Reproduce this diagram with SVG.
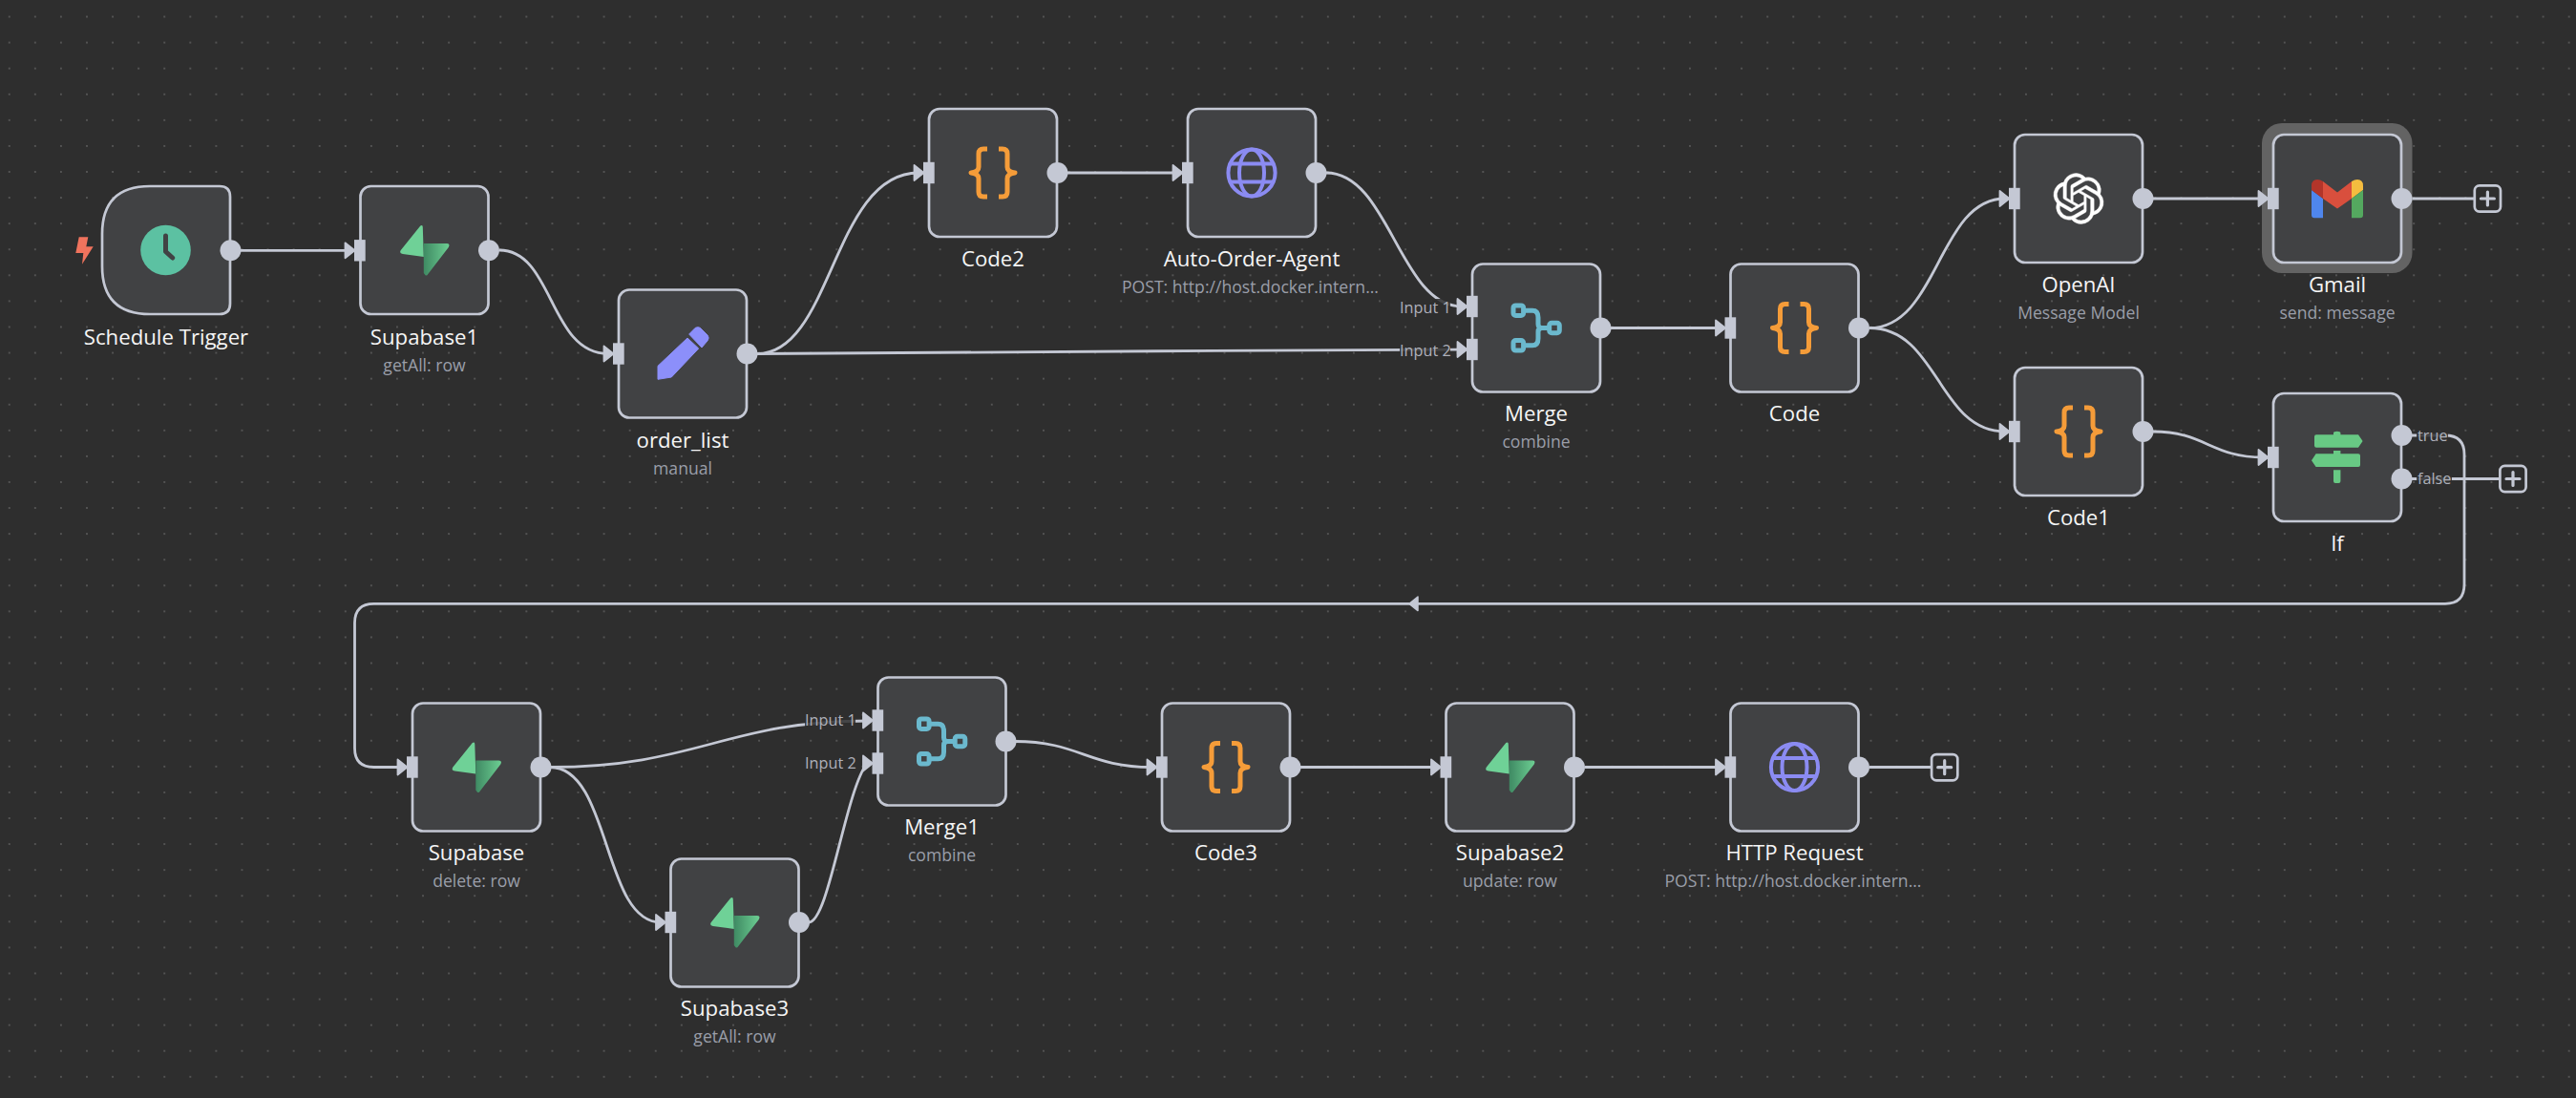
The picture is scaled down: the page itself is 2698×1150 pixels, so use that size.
<svg xmlns="http://www.w3.org/2000/svg" width="2698" height="1150" viewBox="0 0 2698 1150">
<style>
.bg{fill:#2e2e2e}
.n{fill:#414244;stroke:#c4c8d4;stroke-width:2.7}
.t{font-family:"Open Sans","Noto Sans","Liberation Sans",sans-serif;font-size:22.2px;font-weight:500;fill:#f5f5f5;text-anchor:middle}
.s{font-family:"Open Sans","Noto Sans","Liberation Sans",sans-serif;font-size:17.6px;fill:#9a9ea9;text-anchor:middle}
.l{font-family:"Open Sans","Noto Sans","Liberation Sans",sans-serif;font-size:16.25px;fill:#aeb1ba}
.e{fill:none;stroke:#c4c8d4;stroke-width:2.8}
.p{fill:#c4c8d4}
.lb{fill:#2e2e2e;opacity:.85}
</style>
<defs>
<pattern id="dots" x="77.46" y="166.46" width="27.08" height="27.08" patternUnits="userSpaceOnUse"><circle cx="13.54" cy="13.54" r="0.75" fill="#8a8a8a"/></pattern>
<linearGradient id="sg" gradientUnits="userSpaceOnUse" x1="0" y1="0" x2="27" y2="0"><stop offset="0" stop-color="#3f8a63"/><stop offset="1" stop-color="#6dcf93"/></linearGradient>
<g id="in"><path class="p" d="M-15.5,-8 L-5.5,0 L-15.5,8 Z" stroke="#c4c8d4" stroke-width="1.8" stroke-linejoin="round"/><rect class="p" x="-6" y="-11.2" width="11.7" height="22.4"/></g>
<circle id="out" class="p" r="11"/>
<g id="sb" transform="translate(-.7,0)"><path d="M-1,-24 Q-1,-27 -3.5,-25.5 L-24,0 Q-26,3.5 -22,4 L0,7 Z" fill="#6fd197"/><path d="M1.5,26 Q3,27.5 4.5,25 L26,-3 Q28,-7 24,-7 L0,-7 L0,24 Z" fill="url(#sg)"/></g>
<g id="code" fill="none" stroke="#f59c39" stroke-width="5" stroke-linejoin="round"><path d="M-6,-25 H-10 Q-15,-25 -15,-20 V-6 Q-15,-1 -23,0 Q-15,1 -15,6 V20 Q-15,25 -10,25 H-6"/><path d="M6,-25 H10 Q15,-25 15,-20 V-6 Q15,-1 23,0 Q15,1 15,6 V20 Q15,25 10,25 H6"/></g>
<g id="globe" fill="none" stroke="#8b8bf2" stroke-width="4"><circle r="24.6"/><ellipse rx="13" ry="24.6"/><path d="M-23,-9.5 H23 M-23,9.5 H23"/></g>
<g id="merge" fill="none" stroke="#6bb9ce" stroke-width="5" stroke-linejoin="round"><rect x="-24" y="-23.6" width="10.6" height="10.6" rx="2.5"/><rect x="-24" y="13" width="10.6" height="10.6" rx="2.5"/><rect x="13.7" y="-5.3" width="10.6" height="10.6" rx="2.5"/><path d="M-13.4,-18.3 H-4 Q2,-18.3 2,-11 V-4 Q2,0 6,0 H13.7 M6,0 Q2,0 2,4 V11 Q2,18.3 -4,18.3 H-13.4"/></g>
<g id="plus"><rect x="-13.6" y="-13.6" width="27.2" height="27.2" rx="5" fill="#2e2e2e" stroke="#c4c8d4" stroke-width="2.7"/><path d="M-7,0 H7 M0,-7 V7" stroke="#c4c8d4" stroke-width="3.2" stroke-linecap="round"/></g>
</defs>
<rect class="bg" width="2698" height="1150"/>
<rect width="2698" height="1150" fill="url(#dots)"/>

<g id="connectors">
<path class="e" d="M252,262.3 H362"/>
<path class="e" d="M523,262 C580,262 575,370.5 637,370.5"/>
<path class="e" d="M793,370.5 C872,370.5 872,181 962,181"/>
<path class="e" d="M793,370.5 C1000,370.5 1300,366 1531,366"/>
<path class="e" d="M1118,181 H1233"/>
<path class="e" d="M1389,181 C1455,181 1466,321 1531,321"/>
<path class="e" d="M1687,343.5 H1802"/>
<path class="e" d="M1958,343.5 C2030,343.5 2030,208 2100,208"/>
<path class="e" d="M1958,343.5 C2030,343.5 2030,452 2100,452"/>
<path class="e" d="M2255,208 H2371"/>
<path class="e" d="M2526,208 H2591"/>
<path class="e" d="M2255,452 C2310,452 2315,479 2371,479"/>
<path class="e" d="M2526,456 H2561 Q2581,456 2581,476 V612 Q2581,632.3 2561,632.3 H391.5 Q371.5,632.3 371.5,652.3 V783.5 Q371.5,803.5 391.5,803.5 H422"/>
<path class="p" d="M1485,625 V639.6 L1476,632.3 Z" stroke="#c4c8d4" stroke-width="1.5" stroke-linejoin="round"/>
<path class="e" d="M2526,501.5 H2618"/>
<path class="e" d="M576,803.5 C730,803.5 760,755 910,755"/>
<path class="e" d="M576,803.5 C640,803.5 631,966 692,966"/>
<path class="e" d="M847,966 C868,966 885,830 908,799.5"/>
<path class="e" d="M1063,776.5 C1130,776.5 1140,803.5 1206,803.5"/>
<path class="e" d="M1362,803.5 H1504"/>
<path class="e" d="M1660,803.5 H1802"/>
<path class="e" d="M1958,803.5 H2023"/>
</g>

<g id="node-schedule-trigger">
<path class="n" d="M157,195 H230 Q241,195 241,206 V318 Q241,329 230,329 H157 Q107,329 107,279 V245 Q107,195 157,195 Z"/>
<path d="M82.7,248.3 H92.3 L90.3,258.3 H97.7 L86,276.7 L87.3,265 H79.3 Z" fill="#f0735d"/>
<circle cx="173.5" cy="262" r="26.3" fill="#5cc1a2"/>
<path d="M173.5,247 V263.5 L180.7,270" fill="none" stroke="#414244" stroke-width="5" stroke-linecap="round" stroke-linejoin="round"/>
<use href="#out" x="241.5" y="262.3"/>
<text class="t" x="174" y="361">Schedule Trigger</text>
</g>

<g id="node-supabase1">
<rect class="n" x="377.5" y="195" width="134" height="134" rx="11"/>
<use href="#sb" x="444.5" y="262"/>
<use href="#in" x="377" y="262.3"/>
<use href="#out" x="512" y="262.3"/>
<text class="t" x="444.5" y="361">Supabase1</text>
<text class="s" x="444.5" y="388.5">getAll: row</text>
</g>

<g id="node-order-list">
<rect class="n" x="648" y="303.5" width="134" height="134" rx="11"/>
<path d="M720,354 L731.7,365 L703.3,395 L689,397.3 L689,383.3 Z M721.7,350 L728.3,343.3 Q731,342 733.3,343.3 L741.3,351.3 Q743,354 741.3,356.5 L735,364 Z" fill="#8c8ffa" stroke="#8c8ffa" stroke-width="1" stroke-linejoin="round"/>
<use href="#in" x="648" y="370.5"/>
<use href="#out" x="782.5" y="370.5"/>
<text class="t" x="715" y="469">order_list</text>
<text class="s" x="715" y="496.5">manual</text>
</g>

<g id="node-code2">
<rect class="n" x="973" y="114" width="134" height="134" rx="11"/>
<use href="#code" x="1040" y="181"/>
<use href="#in" x="973" y="181"/>
<use href="#out" x="1107.5" y="181"/>
<text class="t" x="1040" y="278.5">Code2</text>
</g>

<g id="node-auto-order-agent">
<rect class="n" x="1244" y="114" width="134" height="134" rx="11"/>
<use href="#globe" x="1311" y="181"/>
<use href="#in" x="1244" y="181"/>
<use href="#out" x="1378.5" y="181"/>
<text class="t" x="1311" y="278.5">Auto-Order-Agent</text>
<text class="s" x="1309.5" y="306.5">POST: http://host.docker.intern...</text>
</g>

<g id="node-merge">
<rect class="n" x="1542" y="276.5" width="134" height="134" rx="11"/>
<use href="#merge" x="1609" y="343.5"/>
<use href="#in" x="1542" y="321"/>
<use href="#in" x="1542" y="366"/>
<use href="#out" x="1676.5" y="343.5"/>
<rect class="lb" x="1466" y="313" width="53" height="18"/>
<rect class="lb" x="1466" y="358" width="53" height="18"/>
<text class="l" x="1466" y="327.5">Input 1</text>
<text class="l" x="1466" y="372.5">Input 2</text>
<text class="t" x="1609" y="441">Merge</text>
<text class="s" x="1609" y="469">combine</text>
</g>

<g id="node-code">
<rect class="n" x="1812.5" y="276.5" width="134" height="134" rx="11"/>
<use href="#code" x="1879.5" y="343.5"/>
<use href="#in" x="1812.5" y="343.5"/>
<use href="#out" x="1947" y="343.5"/>
<text class="t" x="1879.5" y="441">Code</text>
</g>

<g id="node-openai">
<rect class="n" x="2110" y="141" width="134" height="134" rx="11"/>
<path transform="translate(2150.6,181.6) scale(2.2)" fill="#fff" stroke="#fff" stroke-width=".2" d="M22.2819 9.8211a5.9847 5.9847 0 0 0-.5157-4.9108 6.0462 6.0462 0 0 0-6.5098-2.9A6.0651 6.0651 0 0 0 4.9807 4.1818a5.9847 5.9847 0 0 0-3.9977 2.9 6.0462 6.0462 0 0 0 .7427 7.0966 5.98 5.98 0 0 0 .511 4.9107 6.051 6.051 0 0 0 6.5146 2.9001A5.9847 5.9847 0 0 0 13.2599 24a6.0557 6.0557 0 0 0 5.7718-4.2058 5.9894 5.9894 0 0 0 3.9977-2.9001 6.0557 6.0557 0 0 0-.7475-7.0729zm-9.022 12.6081a4.4755 4.4755 0 0 1-2.8764-1.0408l.1419-.0804 4.7783-2.7582a.7948.7948 0 0 0 .3927-.6813v-6.7369l2.02 1.1686a.071.071 0 0 1 .038.052v5.5826a4.504 4.504 0 0 1-4.4945 4.4944zm-9.6607-4.1254a4.4708 4.4708 0 0 1-.5346-3.0137l.142.0852 4.783 2.7582a.7712.7712 0 0 0 .7806 0l5.8428-3.3685v2.3324a.0804.0804 0 0 1-.0332.0615L9.74 19.9502a4.4992 4.4992 0 0 1-6.1408-1.6464zM2.3408 7.8956a4.485 4.485 0 0 1 2.3655-1.9728V11.6a.7664.7664 0 0 0 .3879.6765l5.8144 3.3543-2.0201 1.1685a.0757.0757 0 0 1-.071 0l-4.8303-2.7865A4.504 4.504 0 0 1 2.3408 7.872zm16.5963 3.8558L13.1038 8.364 15.1192 7.2a.0757.0757 0 0 1 .071 0l4.8303 2.7913a4.4944 4.4944 0 0 1-.6765 8.1042v-5.6772a.79.79 0 0 0-.407-.667zm2.0107-3.0231l-.142-.0852-4.7735-2.7818a.7759.7759 0 0 0-.7854 0L9.409 9.2297V6.8974a.0662.0662 0 0 1 .0284-.0615l4.8303-2.7866a4.4992 4.4992 0 0 1 6.6802 4.66zM8.3065 12.863l-2.02-1.1638a.0804.0804 0 0 1-.038-.0567V6.0742a4.4992 4.4992 0 0 1 7.3757-3.4537l-.142.0805L8.704 5.459a.7948.7948 0 0 0-.3927.6813zm1.0976-2.3654l2.602-1.4998 2.6069 1.4998v2.9994l-2.5974 1.4997-2.6067-1.4997Z"/>
<use href="#in" x="2110" y="208"/>
<use href="#out" x="2244.5" y="208"/>
<text class="t" x="2177" y="305.5">OpenAI</text>
<text class="s" x="2177" y="333.5">Message Model</text>
</g>

<g id="node-gmail">
<rect x="2369" y="129" width="157.5" height="157" rx="21" fill="#636363"/>
<rect class="n" x="2381" y="141" width="134" height="134" rx="11"/>
<path d="M2421,199 L2433,208 V228.3 H2424 Q2421,228.3 2421,225 Z" fill="#4f86ed"/>
<path d="M2421,199 V194.5 Q2421,188 2427,188 Q2430,188 2433,190 V208 Z" fill="#b3352a"/>
<path d="M2433,190 L2448,201.5 L2463,190 V208 L2448,218.5 L2433,208 Z" fill="#d94f3d"/>
<path d="M2463,190 Q2466,188 2469,188 Q2475,188 2475,194.5 V199 L2463,208 Z" fill="#f4bc3f"/>
<path d="M2475,199 V225 Q2475,228.3 2472,228.3 H2463 V208 Z" fill="#54a85f"/>
<use href="#in" x="2381" y="208"/>
<use href="#out" x="2515.5" y="208"/>
<text class="t" x="2448" y="305.5">Gmail</text>
<text class="s" x="2448" y="333.5">send: message</text>
</g>
<g id="add-gmail"><use href="#plus" x="2605.4" y="208"/></g>

<g id="node-code1">
<rect class="n" x="2110" y="385" width="134" height="134" rx="11"/>
<use href="#code" x="2177" y="452"/>
<use href="#in" x="2110" y="452"/>
<use href="#out" x="2244.5" y="452"/>
<text class="t" x="2177" y="549.5">Code1</text>
</g>

<g id="node-if">
<rect class="n" x="2381" y="412" width="134" height="134" rx="11"/>
<path d="M2444,455.3 V453.5 Q2444,451.7 2447.7,451.7 Q2451.4,451.7 2451.4,453.5 V455.3 H2470 L2474.6,462 L2470,468.7 H2426 Q2424,468.7 2424,466.7 V457.3 Q2424,455.3 2426,455.3 Z M2444,475.3 V472 H2451.4 V475.3 H2470 Q2472,475.3 2472,477.3 V487 Q2472,489 2470,489 H2425.6 L2421,482.2 L2425.6,475.3 Z M2444,492.3 H2451.4 V504 Q2451.4,506 2449.4,506 H2446 Q2444,506 2444,504 Z" fill="#68c984"/>
<use href="#in" x="2381" y="479"/>
<use href="#out" x="2515.5" y="456"/>
<use href="#out" x="2515.5" y="501.5"/>
<rect class="lb" x="2531" y="449" width="33" height="16"/>
<rect class="lb" x="2531" y="494" width="37" height="16"/>
<text class="l" x="2532" y="461.5">true</text>
<text class="l" x="2532" y="506.7">false</text>
<text class="t" x="2448" y="576.5">If</text>
</g>
<g id="add-if"><use href="#plus" x="2632" y="501.5"/></g>

<g id="node-supabase">
<rect class="n" x="432" y="736.5" width="134" height="134" rx="11"/>
<use href="#sb" x="499" y="803.5"/>
<use href="#in" x="432" y="803.5"/>
<use href="#out" x="566.5" y="803.5"/>
<text class="t" x="499" y="901">Supabase</text>
<text class="s" x="499" y="929">delete: row</text>
</g>

<g id="node-supabase3">
<rect class="n" x="702.5" y="899.5" width="134" height="134" rx="11"/>
<use href="#sb" x="769.5" y="966"/>
<use href="#in" x="702.5" y="966"/>
<use href="#out" x="837" y="966"/>
<text class="t" x="769.5" y="1063.5">Supabase3</text>
<text class="s" x="769.5" y="1091.5">getAll: row</text>
</g>

<g id="node-merge1">
<rect class="n" x="919.5" y="709.5" width="134" height="134" rx="11"/>
<use href="#merge" x="986.5" y="776.5"/>
<use href="#in" x="919.5" y="754.5"/>
<use href="#in" x="919.5" y="799.5"/>
<use href="#out" x="1053.5" y="776.5"/>
<rect class="lb" x="843" y="747" width="53" height="18"/>
<rect class="lb" x="843" y="792" width="53" height="18"/>
<text class="l" x="843" y="760">Input 1</text>
<text class="l" x="843" y="805">Input 2</text>
<text class="t" x="986.5" y="874">Merge1</text>
<text class="s" x="986.5" y="902">combine</text>
</g>

<g id="node-code3">
<rect class="n" x="1217" y="736.5" width="134" height="134" rx="11"/>
<use href="#code" x="1284" y="803.5"/>
<use href="#in" x="1217" y="803.5"/>
<use href="#out" x="1351.5" y="803.5"/>
<text class="t" x="1284" y="901">Code3</text>
</g>

<g id="node-supabase2">
<rect class="n" x="1514.5" y="736.5" width="134" height="134" rx="11"/>
<use href="#sb" x="1581.5" y="803.5"/>
<use href="#in" x="1514.5" y="803.5"/>
<use href="#out" x="1649" y="803.5"/>
<text class="t" x="1581.5" y="901">Supabase2</text>
<text class="s" x="1581.5" y="929">update: row</text>
</g>

<g id="node-http-request">
<rect class="n" x="1812.5" y="736.5" width="134" height="134" rx="11"/>
<use href="#globe" x="1879.5" y="803.5"/>
<use href="#in" x="1812.5" y="803.5"/>
<use href="#out" x="1947" y="803.5"/>
<text class="t" x="1879.5" y="901">HTTP Request</text>
<text class="s" x="1878" y="929">POST: http://host.docker.intern...</text>
</g>
<g id="add-http"><use href="#plus" x="2036.7" y="803.7"/></g>
</svg>
